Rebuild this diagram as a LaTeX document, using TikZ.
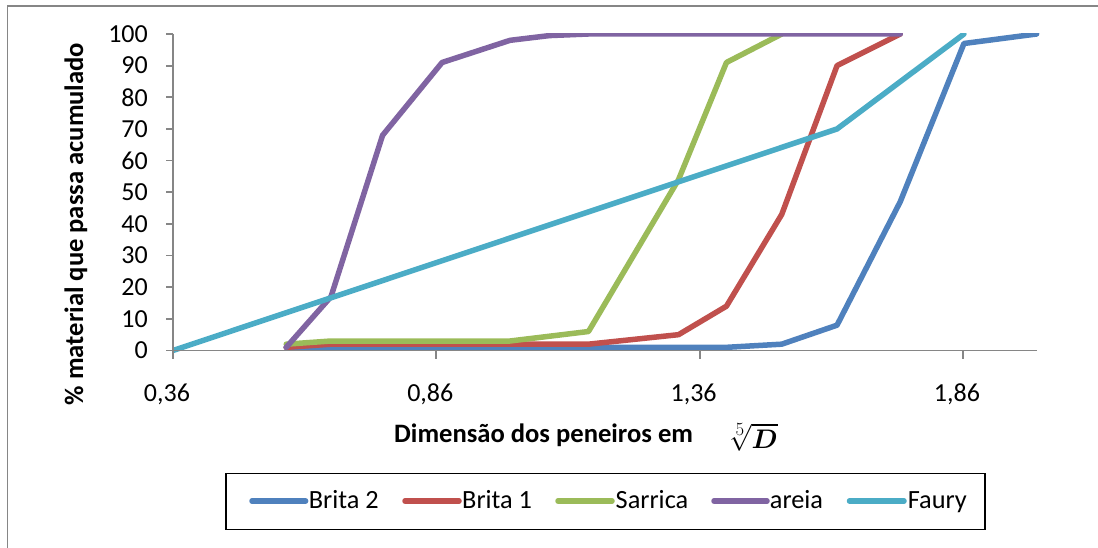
\documentclass[tikz,border=0pt]{standalone}
\usepackage{amsmath}
\usepackage{fontspec}
\setmainfont{Carlito}
\definecolor{axisgray}{HTML}{868686}
\definecolor{cBlue}{HTML}{4F81BD}
\definecolor{cRed}{HTML}{C0504D}
\definecolor{cGreen}{HTML}{9BBB59}
\definecolor{cPurple}{HTML}{8064A2}
\definecolor{cAqua}{HTML}{4BACC6}
\tikzset{
  axisline/.style={draw=axisgray, line width=1.8pt},
  series/.style={line width=5.5pt, line cap=round, line join=round},
  ticklbl/.style={inner sep=0pt, font=\fontsize{26}{26}\selectfont},
  titlelbl/.style={inner sep=0pt, font=\fontsize{26.6}{26.6}\selectfont\bfseries},
  leglbl/.style={inner sep=0pt, font=\fontsize{26.3}{26.3}\selectfont, anchor=base west},
}
\begin{document}
\begin{tikzpicture}[x=1pt,y=1pt]
\useasboundingbox (0,0) rectangle (1098,547);
% outer chart frame
\draw[axisgray, line width=1.5pt] (7.3,-20) -- (7.3,541) -- (1120,541);
% data series
\begin{scope}[shift={(-16.58pt,196.5pt)}, x=526.6pt, y=3.165pt]
  \clip (0.36,-10) rectangle (2.2,100);
  \draw[series, cBlue] (0.575,1) -- (0.660,1) -- (0.758,1) -- (0.871,1) -- (1.0,1) -- (1.149,1) -- (1.320,1) -- (1.411,1) -- (1.516,2) -- (1.621,8) -- (1.741,47) -- (1.862,97) -- (2.0,100);
  \draw[series, cRed] (0.575,1) -- (0.660,2) -- (0.758,2) -- (0.871,2) -- (1.0,2) -- (1.149,2) -- (1.320,5) -- (1.411,14) -- (1.516,43) -- (1.621,90) -- (1.741,100);
  \draw[series, cGreen] (0.575,2) -- (0.660,3) -- (0.758,3) -- (0.871,3) -- (1.0,3) -- (1.149,6) -- (1.320,54) -- (1.411,91) -- (1.516,100);
  \draw[series, cPurple] (0.575,1) -- (0.660,17) -- (0.758,68) -- (0.871,91) -- (1.0,98) -- (1.075,99.5) -- (1.149,100) -- (1.320,100) -- (1.411,100) -- (1.516,100) -- (1.621,100) -- (1.741,100);
  \draw[series, cAqua] (0.36,0) -- (1.621,70) -- (1.862,100);
\end{scope}
% axes
\draw[axisline] (173,513) -- (173,196.5) -- (1036.7,196.5);
\foreach \v [count=\i] in {0,10,...,100}{
  \draw[axisline] (166,196.5+3.165*\v) -- (173,196.5+3.165*\v);
  \node[ticklbl, anchor=east] (ylab\i) at (148,196.5+3.165*\v) {\v};
}
\foreach \px/\t [count=\i] in {173/{0,36},436.3/{0,86},699.6/{1,36},962.9/{1,86}}{
  \draw[axisline] (\px,196.5) -- (\px,188.5);
  \node[ticklbl, anchor=base] (xlab\i) at (\px-6,145.3) {\t};
}
% axis titles
\node[titlelbl, anchor=base west] (xtitle) at (394,104.3) {Dimensão dos peneiros em};
\node[inner sep=0pt, anchor=base west, font=\fontsize{24.88}{26}\selectfont, scale=1.08, transform shape] (xroot) at (728,98.7) {$\sqrt[5]{\boldsymbol{D}}$};
\node[titlelbl, rotate=90, anchor=base] (ytitle) at (83,323) {\% material que passa acumulado};
% legend
\draw[black, line width=1.2pt] (226,17.7) rectangle (985,73.7);
\draw[series, cBlue] (252,46) -- (305.6,46);
\node[leglbl] (leg1) at (308.6,38.7) {Brita 2};
\draw[series, cRed] (405,46) -- (459,46);
\node[leglbl] (leg2) at (462,38.7) {Brita 1};
\draw[series, cGreen] (558,46) -- (612,46);
\node[leglbl] (leg3) at (615.5,38.7) {Sarrica};
\draw[series, cPurple] (714,46) -- (767,46);
\node[leglbl] (leg4) at (769.7,38.7) {areia};
\draw[series, cAqua] (849.5,46) -- (904,46);
\node[leglbl] (leg5) at (907.6,38.7) {Faury};
\end{tikzpicture}
\end{document}
